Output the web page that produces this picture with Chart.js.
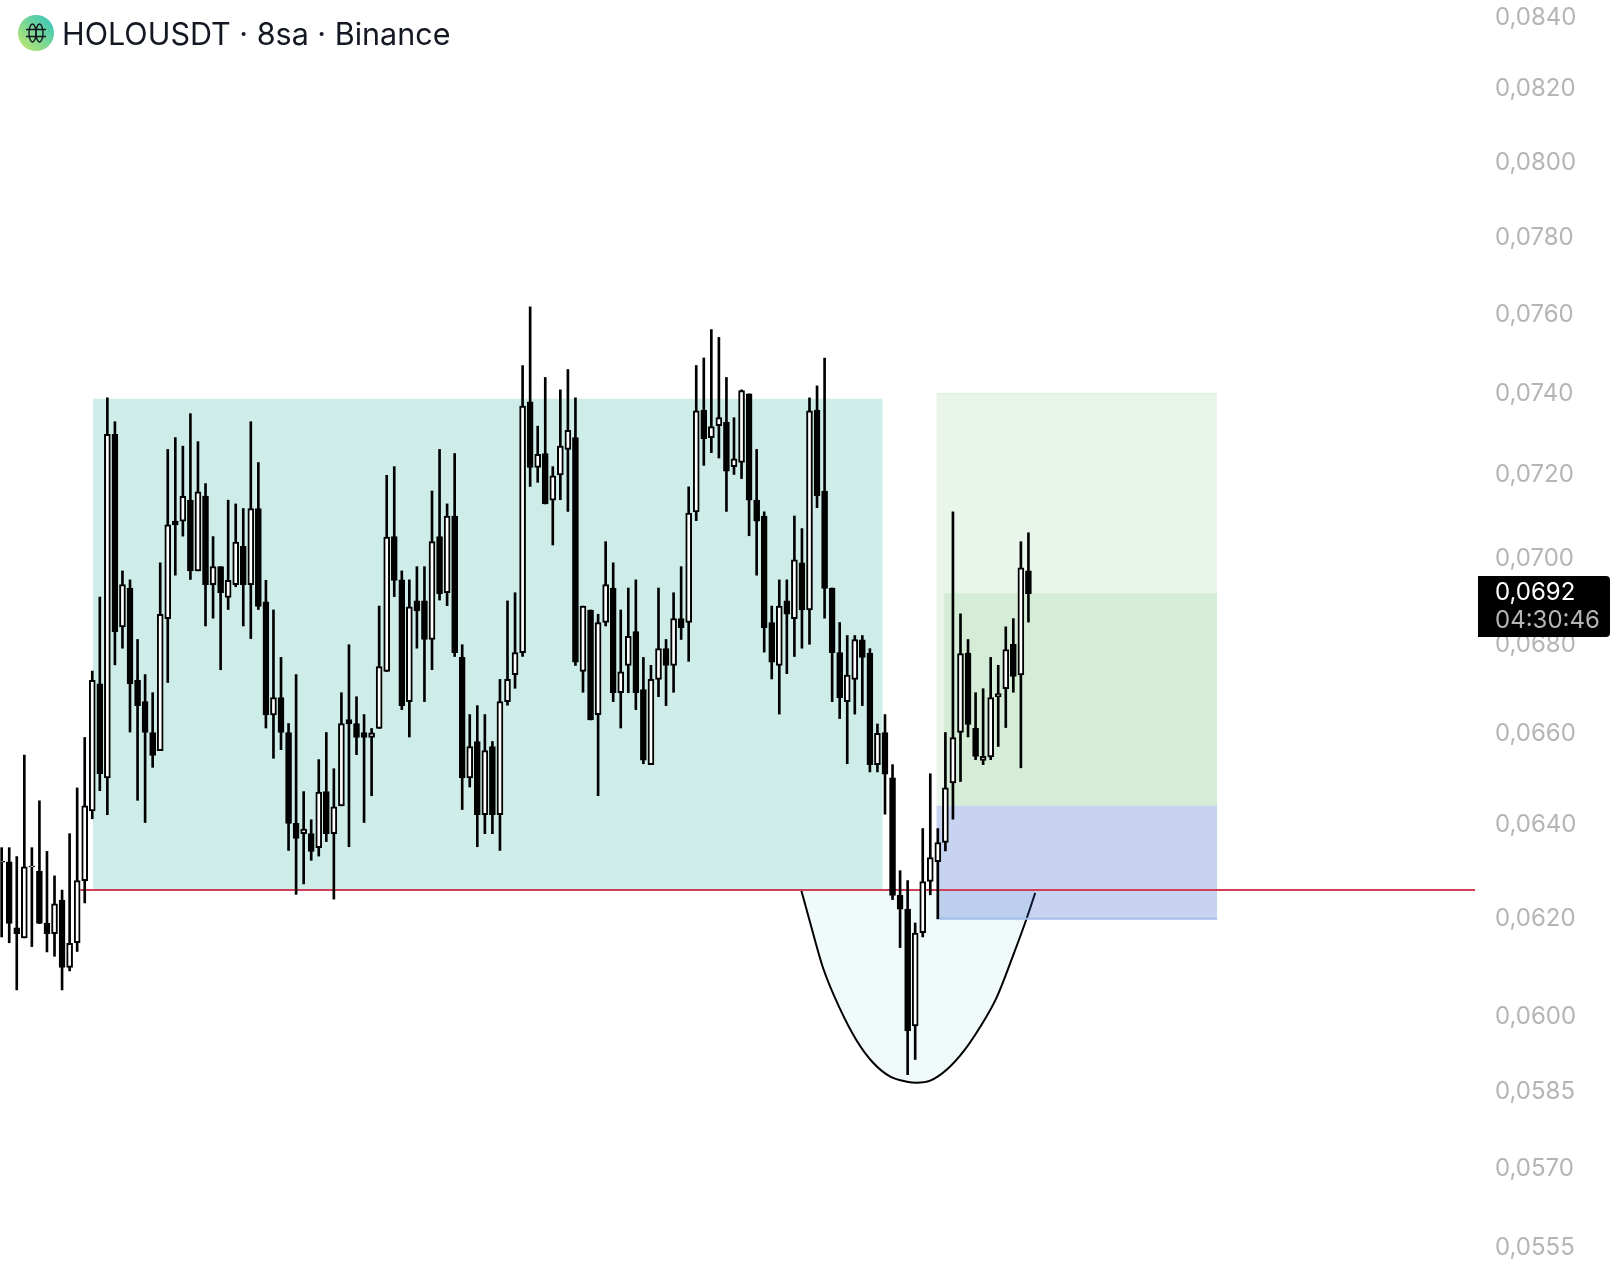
<!DOCTYPE html>
<html>
<head>
<meta charset="utf-8">
<title>HOLOUSDT</title>
<script src="https://cdn.jsdelivr.net/npm/chart.js@4"></script>
<style>
  html, body { margin: 0; background: #fff; }
  #wrap { position: relative; width: 1620px; height: 1280px; overflow: hidden; }
  #header { position: absolute; left: 18px; top: 15px; height: 36px; display: flex; align-items: center; z-index: 2;
    font: 400 30.5px Inter, sans-serif; color: #131722; }
  #header svg { margin-right: 8px; }
</style>
</head>
<body>
<div id="wrap">
  <div id="header">
    <svg width="36" height="36" viewBox="0 0 36 36">
      <defs><linearGradient id="logoGrad" x1="0" y1="1" x2="1" y2="0">
        <stop offset="0" stop-color="#c6e86a"/><stop offset="1" stop-color="#2cc4c0"/>
      </linearGradient></defs>
      <circle cx="18" cy="18" r="18" fill="url(#logoGrad)"/>
      <g fill="none" stroke="#131722" stroke-width="1.4">
        <ellipse cx="14.5" cy="18" rx="3.5" ry="9"/>
        <ellipse cx="21.5" cy="18" rx="3.5" ry="9"/>
        <path d="M8 14.5h20M8 21.5h20"/>
      </g>
    </svg>
    <span>HOLOUSDT · 8sa · Binance</span>
  </div>
  <canvas id="chart" width="1620" height="1280"></canvas>
</div>
<script>
// ─── Candles ────────────────────────────────────────────────────────────
const opens = [
  0.06316,0.06317,0.06178,0.06157,0.06306,0.06297,0.06188,0.06166,0.06236,0.06096,
  0.06147,0.06277,0.06426,0.06707,0.06498,0.07295,0.06837,0.06927,0.06715,0.06667,
  0.06598,0.06558,0.06856,0.07085,0.07085,0.07135,0.06967,0.07145,0.06935,0.06977,
  0.06905,0.06935,0.07025,0.06935,0.07115,0.06895,0.06637,0.06676,0.06598,0.06399,
  0.06377,0.06377,0.06347,0.06468,0.06377,0.06437,0.06627,0.06618,0.06598,0.06587,
  0.06607,0.06735,0.07048,0.06946,0.06667,0.06897,0.06897,0.06808,0.07048,0.06916,
  0.07097,0.06767,0.06498,0.06578,0.06418,0.06567,0.06418,0.06667,0.06728,0.06778,
  0.07375,0.07214,0.07248,0.07135,0.07196,0.07258,0.07287,0.06735,0.06876,0.06638,
  0.06847,0.06927,0.06687,0.06749,0.06826,0.06694,0.06527,0.06717,0.06787,0.06749,
  0.06856,0.06847,0.07107,0.07355,0.07287,0.07316,0.07325,0.07216,0.07226,0.07395,
  0.07135,0.07097,0.06847,0.06749,0.06897,0.06856,0.06986,0.06876,0.07355,0.07157,
  0.06927,0.06778,0.06667,0.06717,0.06807,0.06777,0.06527,0.06598,0.06498,0.06246,
  0.06217,0.05977,0.06168,0.06275,0.06317,0.06358,0.06487,0.06598,0.06777,0.06607,
  0.06536,0.06544,0.06678,0.06696,0.06797,0.06727,0.06967,
];
const highs = [
  0.06347,0.06347,0.06328,0.06548,0.06347,0.06448,0.06339,0.06287,0.06257,0.06377,
  0.06476,0.06587,0.06736,0.06906,0.07385,0.07326,0.06967,0.06946,0.06808,0.06728,
  0.06687,0.06986,0.07258,0.07287,0.07266,0.07346,0.07277,0.07175,0.07048,0.06977,
  0.07135,0.07126,0.07115,0.07326,0.07226,0.06945,0.06876,0.06767,0.06618,0.06728,
  0.06468,0.06407,0.06538,0.06598,0.06518,0.06687,0.06796,0.06678,0.06638,0.06607,
  0.06885,0.07195,0.07216,0.06967,0.06946,0.06977,0.06977,0.07157,0.07258,0.07126,
  0.07248,0.06796,0.06638,0.06658,0.06638,0.06578,0.06717,0.06897,0.06916,0.07466,
  0.07615,0.07315,0.07436,0.07216,0.07405,0.07456,0.07385,0.06885,0.06876,0.06866,
  0.07036,0.06986,0.06876,0.06927,0.06946,0.06767,0.06749,0.06927,0.06808,0.06916,
  0.06977,0.07167,0.07466,0.07485,0.07557,0.07537,0.07436,0.07336,0.07405,0.07395,
  0.07258,0.07107,0.06885,0.06946,0.06946,0.07097,0.07067,0.07385,0.07415,0.07485,
  0.06927,0.06847,0.06817,0.06817,0.06817,0.06787,0.06617,0.06638,0.06527,0.06298,
  0.06277,0.06188,0.06388,0.06507,0.06388,0.06598,0.07107,0.06867,0.06808,0.06687,
  0.06696,0.06767,0.06749,0.06837,0.06856,0.07036,0.07057,
];
const lows = [
  0.06159,0.06147,0.06050,0.06157,0.06139,0.06187,0.06128,0.06119,0.06050,0.06089,
  0.06129,0.06230,0.06409,0.06470,0.06418,0.06750,0.06788,0.06599,0.06449,0.06401,
  0.06521,0.06558,0.06710,0.06957,0.07049,0.06947,0.06967,0.06839,0.06857,0.06739,
  0.06877,0.06930,0.06839,0.06810,0.06877,0.06608,0.06541,0.06560,0.06341,0.06248,
  0.06270,0.06320,0.06329,0.06360,0.06238,0.06437,0.06349,0.06549,0.06401,0.06459,
  0.06607,0.06735,0.06907,0.06649,0.06588,0.06788,0.06667,0.06739,0.06899,0.06886,
  0.06769,0.06429,0.06478,0.06349,0.06377,0.06377,0.06341,0.06659,0.06697,0.06769,
  0.07168,0.07178,0.07126,0.07028,0.07136,0.07108,0.06749,0.06688,0.06626,0.06459,
  0.06839,0.06667,0.06608,0.06687,0.06649,0.06529,0.06527,0.06678,0.06658,0.06688,
  0.06808,0.06758,0.07086,0.07219,0.07250,0.07237,0.07108,0.07197,0.07187,0.07050,
  0.06957,0.06779,0.06718,0.06639,0.06730,0.06769,0.06788,0.06797,0.07117,0.06857,
  0.06667,0.06629,0.06529,0.06639,0.06658,0.06511,0.06511,0.06419,0.06237,0.06137,
  0.05880,0.05910,0.06159,0.06247,0.06197,0.06340,0.06408,0.06490,0.06588,0.06538,
  0.06527,0.06538,0.06567,0.06609,0.06688,0.06520,0.06848,
];
const closes = [
  0.06318,0.06187,0.06166,0.06306,0.06308,0.06187,0.06166,0.06228,0.06096,0.06146,
  0.06277,0.06437,0.06715,0.06507,0.07295,0.06826,0.06935,0.06707,0.06658,0.06598,
  0.06547,0.06866,0.07076,0.07076,0.07144,0.06967,0.07155,0.06935,0.06977,0.06916,
  0.06945,0.07035,0.06935,0.07115,0.06884,0.06637,0.06676,0.06598,0.06399,0.06367,
  0.06387,0.06339,0.06467,0.06377,0.06435,0.06618,0.06617,0.06587,0.06587,0.06597,
  0.06746,0.07047,0.06945,0.06658,0.06883,0.06874,0.06808,0.07036,0.06913,0.07097,
  0.06778,0.06498,0.06567,0.06418,0.06558,0.06418,0.06667,0.06717,0.06778,0.07365,
  0.07214,0.07246,0.07126,0.07194,0.07266,0.07305,0.06756,0.06885,0.06626,0.06847,
  0.06935,0.06687,0.06734,0.06815,0.06687,0.06537,0.06717,0.06787,0.06749,0.06856,
  0.06835,0.07104,0.07353,0.07284,0.07314,0.07336,0.07205,0.07235,0.07403,0.07135,
  0.07085,0.06835,0.06756,0.06885,0.06866,0.06993,0.06876,0.07353,0.07145,0.06926,
  0.06778,0.06676,0.06727,0.06808,0.06767,0.06527,0.06596,0.06506,0.06246,0.06217,
  0.05967,0.06167,0.06275,0.06326,0.06358,0.06476,0.06587,0.06776,0.06616,0.06545,
  0.06545,0.06676,0.06685,0.06785,0.06724,0.06974,0.06914,
];

// ─── Price axis ─────────────────────────────────────────────────────────
const priceTicks = [0.084,0.082,0.08,0.078,0.076,0.074,0.072,0.07,0.068,0.066,0.064,0.062,0.06,0.0585,0.057,0.0555];
const lastPrice = 0.0692;
const lastLabel = "0,0692";
const countdown = "04:30:46";

// ─── Drawn zones, in candle index and price ─────────────────────────────
const supportPrice = 0.06257;
const supportFrom = 10.4;
const rangeX = [12.1, 116.7];
const rangeTop = 0.07383;
const targetX = [123.8, 161];
const targetTop = 0.07396;
const targetBottom = 0.06437;
const tp1X = [124.8, 161];
const tp1Top = 0.06915;
const stopBottom = 0.06197;
const bowlX = [105.9,107.1,108.8,111.0,113.2,115.4,117.7,119.9,121.2,123.0,125.2,127.4,129.6,131.8,134.0,135.8,136.9];
const bowlY = [0.06257,0.06188,0.06095,0.06013,0.05949,0.05904,0.05876,0.05866,0.05864,0.05868,0.05890,0.05926,0.05975,0.06035,0.06122,0.06199,0.06251];

const X_MIN = -0.221;
const X_MAX = 195.15;
const Y_MAX = 0.08444;
const Y_MIN = 0.05487;

const AXIS_FONT = "Inter, sans-serif";
const indexes = opens.map((_, i) => i);

// flat filled box as a two point line filled down to a price
function zone(xs, top, bottom, fillColor, order, edge) {
  return {
    type: "line",
    data: xs.map((x) => ({ x, y: top })),
    borderColor: edge || "transparent",
    borderWidth: edge ? 1.5 : 0,
    backgroundColor: fillColor,
    fill: { value: bottom },
    pointRadius: 0,
    order,
  };
}

// Last price tag on the axis, text stays real canvas text
const priceTag = {
  id: "priceTag",
  afterDraw(chart) {
    const { ctx } = chart;
    const y = chart.scales.y.getPixelForValue(lastPrice);
    ctx.save();
    ctx.fillStyle = "#000";
    ctx.beginPath();
    ctx.roundRect(1478, y - 15, 132, 61, [0, 4, 4, 0]);
    ctx.fill();
    ctx.font = "24px " + AXIS_FONT;
    ctx.textBaseline = "middle";
    ctx.fillStyle = "#fff";
    ctx.fillText(lastLabel, 1495, y + 2);
    ctx.fillStyle = "#b5b5b5";
    ctx.fillText(countdown, 1495, y + 30);
    ctx.restore();
  },
};

new Chart(document.getElementById("chart"), {
  data: {
    datasets: [
      zone(rangeX, rangeTop, supportPrice, "#cfede8", 10),
      {
        type: "line",
        data: bowlX.map((x, i) => ({ x, y: bowlY[i] })),
        borderColor: "#000",
        borderWidth: 2,
        backgroundColor: "rgb(240,250,250)",
        fill: { value: supportPrice },
        cubicInterpolationMode: "monotone",
        pointRadius: 0,
        order: 9,
      },
      zone(targetX, targetTop, targetBottom, "rgba(76,175,80,0.12)", 8, "rgba(76,175,80,0.1)"),
      zone(tp1X, tp1Top, targetBottom, "rgba(76,175,80,0.12)", 7),
      zone(targetX, targetBottom, stopBottom, "rgba(31,79,195,0.25)", 6),
      {
        type: "line",
        data: targetX.map((x) => ({ x, y: stopBottom })),
        borderColor: "#a3bbec",
        borderWidth: 2,
        pointRadius: 0,
        order: 5,
      },
      {
        type: "line",
        data: [{ x: supportFrom, y: supportPrice }, { x: X_MAX, y: supportPrice }],
        borderColor: "#cf4058",
        borderWidth: 2,
        pointRadius: 0,
        order: 4,
      },
      {
        type: "bar",
        data: indexes.map((i) => ({ x: i, y: [lows[i], highs[i]] })),
        backgroundColor: "#000",
        barThickness: 2,
        grouped: false,
        order: 2,
      },
      {
        type: "bar",
        data: indexes.map((i) => ({ x: i, y: [opens[i], closes[i]] })),
        backgroundColor: indexes.map((i) => (closes[i] >= opens[i] ? "#fff" : "#000")),
        borderColor: "#000",
        borderWidth: 2,
        borderSkipped: false,
        barThickness: 6,
        grouped: false,
        order: 1,
      },
    ],
  },
  options: {
    responsive: false,
    animation: false,
    events: [],
    layout: { padding: 0 },
    plugins: { legend: { display: false }, tooltip: { enabled: false } },
    scales: {
      x: { type: "linear", display: false, min: X_MIN, max: X_MAX, offset: false },
      y: {
        type: "logarithmic",
        position: "right",
        min: Y_MIN,
        max: Y_MAX,
        border: { display: false },
        grid: { display: false },
        afterBuildTicks(scale) {
          scale.ticks = priceTicks.map((value) => ({ value }));
        },
        afterFit(scale) {
          scale.width = 145;
          scale.paddingTop = 0;
          scale.paddingBottom = 0;
        },
        ticks: {
          autoSkip: false,
          padding: 12,
          labelOffset: 2,
          color: "#b5b5b5",
          font: { family: AXIS_FONT, size: 24 },
          callback: (value) => value.toFixed(4).replace(".", ","),
        },
      },
    },
  },
  plugins: [priceTag],
});
</script>
</body>
</html>
